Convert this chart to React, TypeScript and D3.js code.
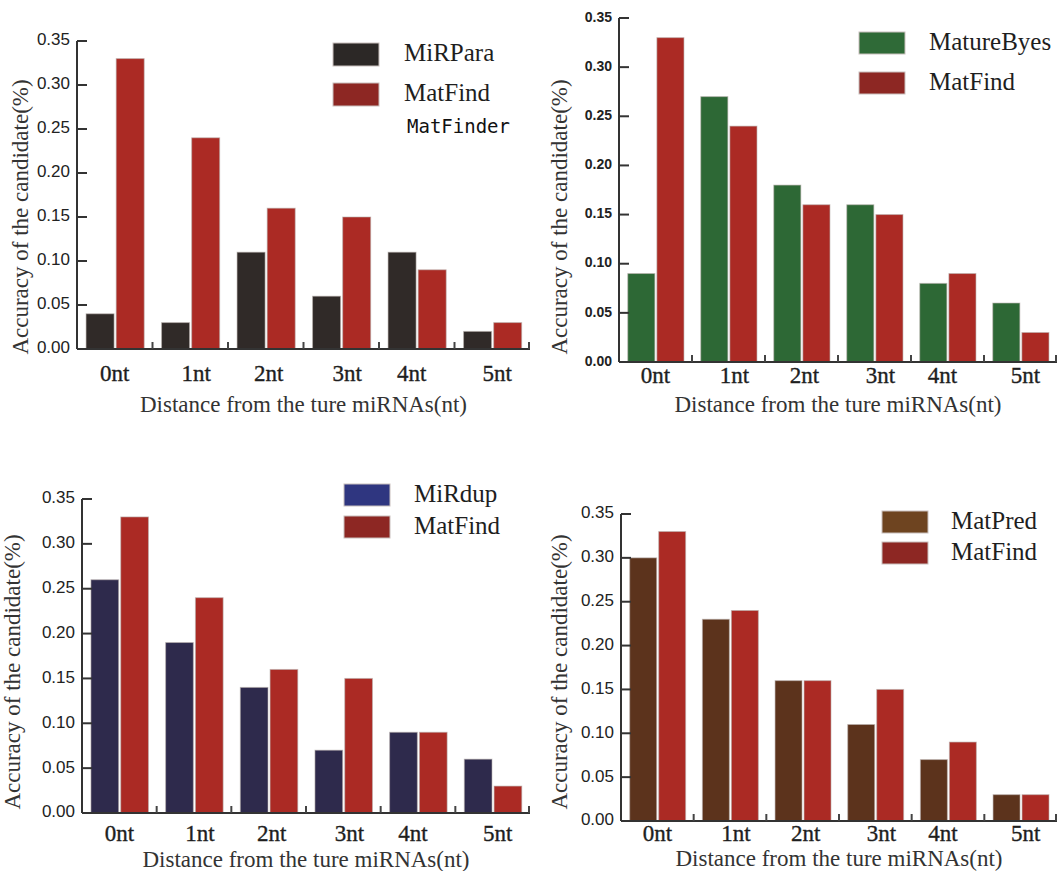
import React from "react";
import * as d3 from "d3";

// distances from the true miRNA end
const categories = ["0nt", "1nt", "2nt", "3nt", "4nt", "5nt"];
const yTicks = [0, 0.05, 0.1, 0.15, 0.2, 0.25, 0.3, 0.35];

// accuracy per tool
const matFind = [0.33, 0.24, 0.16, 0.15, 0.09, 0.03];
const miRPara = [0.04, 0.03, 0.11, 0.06, 0.11, 0.02];
const matureByes = [0.09, 0.27, 0.18, 0.16, 0.08, 0.06];
const miRdup = [0.26, 0.19, 0.14, 0.07, 0.09, 0.06];
const matPred = [0.3, 0.23, 0.16, 0.11, 0.07, 0.03];

const xTitle = "Distance from the ture miRNAs(nt)";
const yTitle = "Accuracy of the candidate(%)";

// tick labels in the original sit a little off the band centres
const labelNudge = [0, 6, 3, 6, -5, 5];

const RED = "#ab2a24";
const RED_KEY = "#8d2723";
const SERIF = "'Liberation Serif', 'Times New Roman', serif";
const SANS = "'Liberation Sans', Arial, sans-serif";

type PanelCfg = {
  name: string;
  values: number[];
  color: string;
  keyColor: string;
  left: number;
  right: number;
  top: number;
  bottom: number;
  tickLabelY: number;
  titleY: number;
  yTitleX: number;
  yTitleY: number;
  keyX: number;
  keyRows: number[];
  keyH: number;
  textX: number;
  tickFont: number;
  tickWeight: number;
  extra?: string;
};

const panels: PanelCfg[] = [
  {
    name: "MiRPara", values: miRPara, color: "#302a28", keyColor: "#2c2826",
    left: 77, right: 530, top: 41, bottom: 349, tickLabelY: 376, titleY: 407,
    yTitleX: 23, yTitleY: 217, keyX: 333, keyRows: [43, 83], keyH: 23, textX: 404,
    tickFont: 17, tickWeight: 400, extra: "MatFinder",
  },
  {
    name: "MatureByes", values: matureByes, color: "#2d6835", keyColor: "#2f6a37",
    left: 619, right: 1057, top: 18, bottom: 362, tickLabelY: 378, titleY: 407,
    yTitleX: 562, yTitleY: 217, keyX: 859, keyRows: [32, 72], keyH: 22, textX: 929,
    tickFont: 14, tickWeight: 700,
  },
  {
    name: "MiRdup", values: miRdup, color: "#2e2a4c", keyColor: "#2f3680",
    left: 82, right: 530, top: 499, bottom: 813, tickLabelY: 836, titleY: 862,
    yTitleX: 15, yTitleY: 672, keyX: 344, keyRows: [484, 516], keyH: 22, textX: 414,
    tickFont: 17, tickWeight: 400,
  },
  {
    name: "MatPred", values: matPred, color: "#5c331c", keyColor: "#6e4420",
    left: 621, right: 1057, top: 514, bottom: 821, tickLabelY: 836, titleY: 861,
    yTitleX: 562, yTitleY: 672, keyX: 882, keyRows: [511, 542], keyH: 22, textX: 951,
    tickFont: 17, tickWeight: 400,
  },
];

const Panel = ({ cfg }: { cfg: PanelCfg }) => {
  const x0 = d3.scaleBand().domain(categories).range([cfg.left, cfg.right]);
  const bw = x0.bandwidth();
  const x1 = d3
    .scaleBand()
    .domain(["a", "b"])
    .range([bw * 0.12, bw * 0.89])
    .paddingInner(0.07);
  const y = d3.scaleLinear().domain([0, 0.35]).range([cfg.bottom, cfg.top]);

  const series = [
    { key: "a", values: cfg.values, color: cfg.color },
    { key: "b", values: matFind, color: RED },
  ];
  const boundaries = categories.slice(1).map((c) => x0(c) as number);
  boundaries.push(cfg.right - 1);

  return (
    <g>
      {/* bars */}
      {categories.map((c, i) => (
        <g key={c} transform={`translate(${x0(c)},0)`}>
          {series.map((s) => (
            <rect
              key={s.key}
              x={x1(s.key)}
              y={y(s.values[i])}
              width={x1.bandwidth()}
              height={y(0) - y(s.values[i])}
              fill={s.color}
              stroke="#b9b0ad"
              strokeOpacity={0.6}
              strokeWidth={1}
            />
          ))}
        </g>
      ))}

      {/* y axis */}
      <line x1={cfg.left} x2={cfg.left} y1={y(0.35)} y2={y(0)} stroke="#333" strokeWidth={2} />
      {yTicks.map((t) => (
        <g key={t}>
          <line x1={cfg.left} x2={cfg.left + 10} y1={y(t)} y2={y(t)} stroke="#333" strokeWidth={2} />
          <text
            x={cfg.left - 7}
            y={y(t)}
            textAnchor="end"
            dominantBaseline="middle"
            fontFamily={SANS}
            fontSize={cfg.tickFont}
            fontWeight={cfg.tickWeight}
            fill="#222"
          >
            {t.toFixed(2)}
          </text>
        </g>
      ))}

      {/* x axis */}
      <line x1={cfg.left} x2={cfg.right} y1={y(0)} y2={y(0)} stroke="#333" strokeWidth={2} />
      {boundaries.map((b, i) => (
        <line key={i} x1={b} x2={b} y1={y(0)} y2={y(0) - 7} stroke="#444" strokeWidth={2} />
      ))}
      {categories.map((c, i) => (
        <text
          key={c}
          x={(x0(c) as number) + bw / 2 + labelNudge[i]}
          y={cfg.tickLabelY}
          textAnchor="middle"
          dominantBaseline="middle"
          fontFamily={SERIF}
          fontSize={23}
          fill="#1e1e1e"
          stroke="#1e1e1e"
          strokeWidth={0.35}
        >
          {c}
        </text>
      ))}

      {/* titles */}
      <text
        x={(cfg.left + cfg.right) / 2}
        y={cfg.titleY}
        textAnchor="middle"
        dominantBaseline="middle"
        fontFamily={SERIF}
        fontSize={23}
        fill="#333"
      >
        {xTitle}
      </text>
      <text
        transform={`translate(${cfg.yTitleX},${cfg.yTitleY}) rotate(-90)`}
        textAnchor="middle"
        dominantBaseline="middle"
        fontFamily={SERIF}
        fontSize={23}
        fill="#333"
      >
        {yTitle}
      </text>

      {/* legend */}
      {[cfg.name, "MatFind"].map((label, i) => (
        <g key={label}>
          <rect
            x={cfg.keyX}
            y={cfg.keyRows[i]}
            width={46}
            height={cfg.keyH}
            fill={i === 0 ? cfg.keyColor : RED_KEY}
            stroke="#c9c0bd"
            strokeWidth={1}
          />
          <text
            x={cfg.textX}
            y={cfg.keyRows[i] + cfg.keyH / 2 + 1}
            dominantBaseline="middle"
            fontFamily={SERIF}
            fontSize={25}
            fill="#1e1e1e"
          >
            {label}
          </text>
        </g>
      ))}
      {cfg.extra && (
        <text
          x={cfg.textX + 3}
          y={cfg.keyRows[1] + 44}
          dominantBaseline="middle"
          fontFamily="'DejaVu Sans Mono', 'Liberation Mono', monospace"
          fontSize={19}
          fill="#111"
        >
          {cfg.extra}
        </text>
      )}
    </g>
  );
};

export default function App() {
  return (
    <svg
      width={1057}
      height={871}
      style={{ position: "absolute", left: 0, top: 0, background: "#fff" }}
    >
      {panels.map((p) => (
        <Panel key={p.name} cfg={p} />
      ))}
    </svg>
  );
}
